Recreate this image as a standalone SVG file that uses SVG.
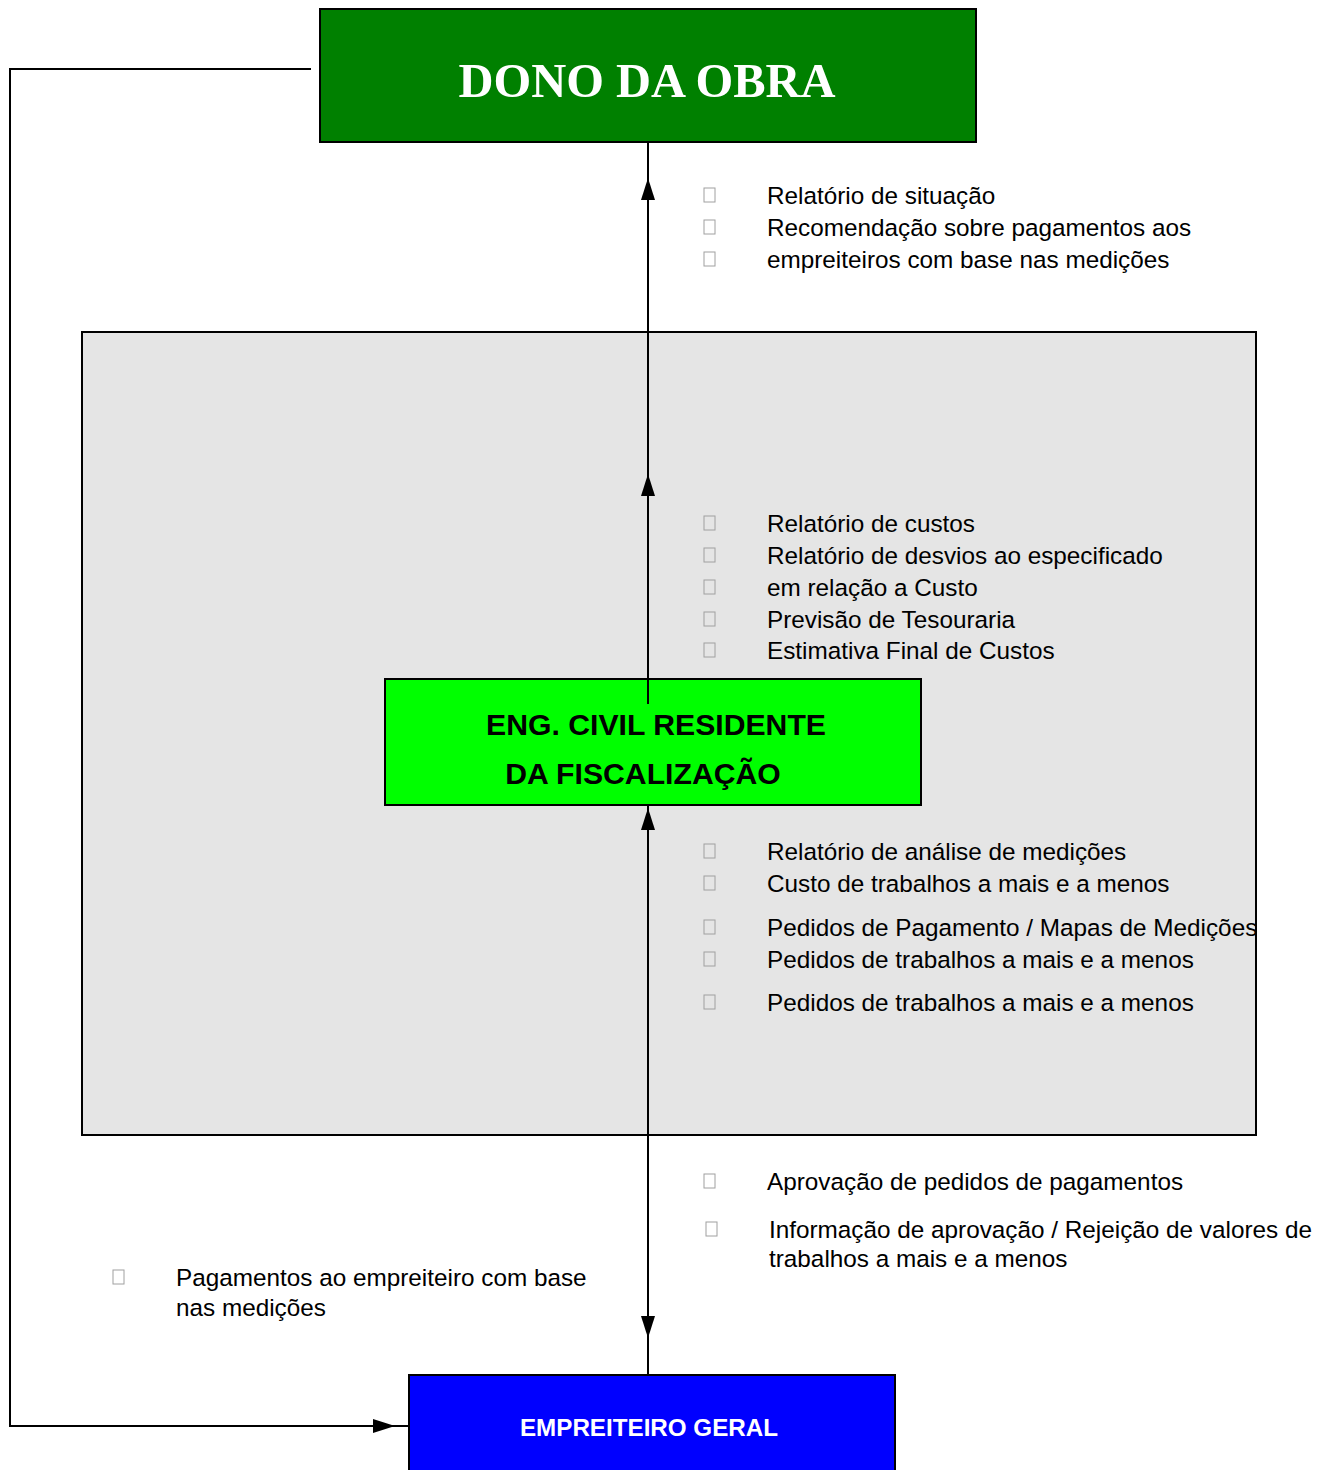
<svg xmlns="http://www.w3.org/2000/svg" width="1334" height="1470" viewBox="0 0 1334 1470">
<style>
.t{font-family:"Liberation Sans",Arial,sans-serif;font-size:24.3px;fill:#000}
.b{fill:none;stroke:#a0a0a0;stroke-width:1}
.ln{stroke:#000;stroke-width:2;fill:none}
</style>
<defs>
<symbol id="bx" overflow="visible"><rect x="0" y="0" width="11" height="14" class="b"/></symbol>
</defs>
<rect width="1334" height="1470" fill="#fff"/>
<g id="fiscal-area"><rect x="82" y="332" width="1174" height="803" fill="#e5e5e5" stroke="#000" stroke-width="2"/></g>
<g id="dono"><rect x="320" y="9" width="656" height="133" fill="#008000" stroke="#000" stroke-width="2"/>
<text x="647" y="97" text-anchor="middle" font-family="Liberation Serif,Times New Roman,serif" font-weight="bold" font-size="48.5" fill="#fff">DONO DA OBRA</text></g>
<g id="eng"><rect x="385" y="679" width="536" height="126" fill="#00ff00" stroke="#000" stroke-width="2"/>
<text x="656" y="735" text-anchor="middle" font-family="Liberation Sans,Arial,sans-serif" font-weight="bold" font-size="30.2">ENG. CIVIL RESIDENTE</text>
<text x="643" y="784" text-anchor="middle" font-family="Liberation Sans,Arial,sans-serif" font-weight="bold" font-size="30.2">DA FISCALIZAÇÃO</text></g>
<g id="empreiteiro"><rect x="409" y="1375" width="486" height="100" fill="#0000ff" stroke="#000" stroke-width="2"/>
<text x="649" y="1436" text-anchor="middle" font-family="Liberation Sans,Arial,sans-serif" font-weight="bold" font-size="24.2" fill="#fff">EMPREITEIRO GERAL</text></g>
<g id="connectors">
<line x1="648" y1="143" x2="648" y2="704" class="ln"/>
<line x1="648" y1="805" x2="648" y2="1375" class="ln"/>
<path d="M648,200 L641,200 L648,178 L655,200 z" fill="#000"/>
<path d="M648,496 L641,496 L648,474 L655,496 z" fill="#000"/>
<path d="M648,830 L641,830 L648,808 L655,830 z" fill="#000"/>
<path d="M641,1316 L655,1316 L648,1338 z" fill="#000"/>
<polyline points="311,69 10,69 10,1426 408,1426" class="ln"/>
<path d="M373,1419 L395,1426 L373,1433 z" fill="#000"/>
</g>
<g id="labels">
<use href="#bx" x="704" y="188"/><text class="t" x="767" y="204">Relatório de situação</text>
<use href="#bx" x="704" y="220"/><text class="t" x="767" y="236">Recomendação sobre pagamentos aos</text>
<use href="#bx" x="704" y="252"/><text class="t" x="767" y="268">empreiteiros com base nas medições</text>

<use href="#bx" x="704" y="516"/><text class="t" x="767" y="532">Relatório de custos</text>
<use href="#bx" x="704" y="548"/><text class="t" x="767" y="564">Relatório de desvios ao especificado</text>
<use href="#bx" x="704" y="580"/><text class="t" x="767" y="596">em relação a Custo</text>
<use href="#bx" x="704" y="612"/><text class="t" x="767" y="628">Previsão de Tesouraria</text>
<use href="#bx" x="704" y="643"/><text class="t" x="767" y="659">Estimativa Final de Custos</text>

<use href="#bx" x="704" y="844"/><text class="t" x="767" y="860">Relatório de análise de medições</text>
<use href="#bx" x="704" y="876"/><text class="t" x="767" y="892">Custo de trabalhos a mais e a menos</text>
<use href="#bx" x="704" y="920"/><text class="t" x="767" y="936">Pedidos de Pagamento / Mapas de Medições</text>
<use href="#bx" x="704" y="952"/><text class="t" x="767" y="968">Pedidos de trabalhos a mais e a menos</text>
<use href="#bx" x="704" y="995"/><text class="t" x="767" y="1011">Pedidos de trabalhos a mais e a menos</text>

<use href="#bx" x="704" y="1174"/><text class="t" x="767" y="1190">Aprovação de pedidos de pagamentos</text>
<use href="#bx" x="706" y="1222"/><text class="t" x="769" y="1238">Informação de aprovação / Rejeição de valores de</text>
<text class="t" x="769" y="1267">trabalhos a mais e a menos</text>

<use href="#bx" x="113" y="1270"/><text class="t" x="176" y="1286">Pagamentos ao empreiteiro com base</text>
<text class="t" x="176" y="1316">nas medições</text>
</g>
</svg>
